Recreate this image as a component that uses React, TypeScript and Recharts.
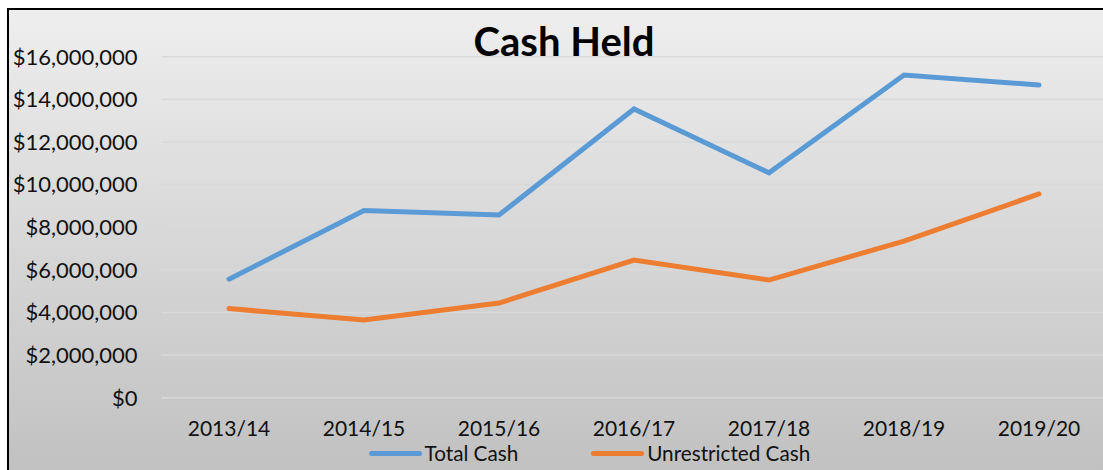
import { CartesianGrid, Legend, Line, LineChart, XAxis, YAxis } from 'recharts';

const years = ['2013/14', '2014/15', '2015/16', '2016/17', '2017/18', '2018/19', '2019/20'];
const totalCash = [5560000, 8780000, 8570000, 13550000, 10550000, 15140000, 14670000];
const unrestrictedCash = [4180000, 3650000, 4440000, 6460000, 5520000, 7350000, 9560000];
const yTicks = [0, 2000000, 4000000, 6000000, 8000000, 10000000, 12000000, 14000000, 16000000];

const data = years.map((y, i) => ({ year: y, total: totalCash[i], unrestricted: unrestrictedCash[i] }));

const FONT = 'Lato, "Open Sans", sans-serif';

const fmt = (v: number) => '$' + v.toLocaleString('en-US');

const LegendContent = () => (
  <div style={{ height: 26, display: 'flex', alignItems: 'center', fontFamily: FONT, fontSize: 20.7, color: '#111' }}>
    <div style={{ marginLeft: 347, width: 53, height: 5, borderRadius: 3, background: '#5B9BD5' }} />
    <span style={{ marginLeft: 3 }}>Total Cash</span>
    <div style={{ marginLeft: 73, width: 53, height: 5, borderRadius: 3, background: '#ED7D31' }} />
    <span style={{ marginLeft: 3 }}>Unrestricted Cash</span>
  </div>
);

export default function App() {
  return (
    <div style={{ position: 'absolute', left: 0, top: 0, width: 1103, height: 470, overflow: 'hidden', background: '#fff' }}>
      <div
        style={{
          position: 'absolute',
          left: 7,
          top: 8,
          width: 1110,
          height: 480,
          borderTop: '2px solid #000',
          borderLeft: '2px solid #000',
          background: 'linear-gradient(#eeeeee, #bfbfbf)',
        }}
      >
        <div
          style={{
            position: 'absolute',
            left: 0,
            width: 1110,
            top: 7,
            textAlign: 'center',
            fontFamily: FONT,
            fontWeight: 700,
            fontSize: 40,
            color: '#000',
          }}
        >
          Cash Held
        </div>
        <LineChart width={1108} height={456} data={data} margin={{ top: 46.7, right: 10.5, left: 12.5, bottom: 0 }}>
          <CartesianGrid vertical={false} stroke='#d9d9d9' strokeWidth={1.5} />
          <XAxis
            dataKey='year'
            axisLine={false}
            tickLine={false}
            tickSize={0}
            tickMargin={23}
            height={42.3}
            padding={{ left: 67.5, right: 67.5 }}
            tick={{ fill: '#111', fontSize: 21, fontFamily: FONT }}
          />
          <YAxis
            domain={[0, 16000000]}
            ticks={yTicks}
            tickFormatter={fmt}
            axisLine={false}
            tickLine={false}
            tickSize={0}
            tickMargin={24}
            width={140}
            tick={{ fill: '#111', fontSize: 22, fontFamily: FONT }}
          />
          <Legend verticalAlign='bottom' height={26} content={<LegendContent />} />
          <Line type='linear' dataKey='total' name='Total Cash' stroke='#5B9BD5' strokeWidth={5} strokeLinecap='round' dot={false} isAnimationActive={false} />
          <Line type='linear' dataKey='unrestricted' name='Unrestricted Cash' stroke='#ED7D31' strokeWidth={5} strokeLinecap='round' dot={false} isAnimationActive={false} />
        </LineChart>
      </div>
    </div>
  );
}
